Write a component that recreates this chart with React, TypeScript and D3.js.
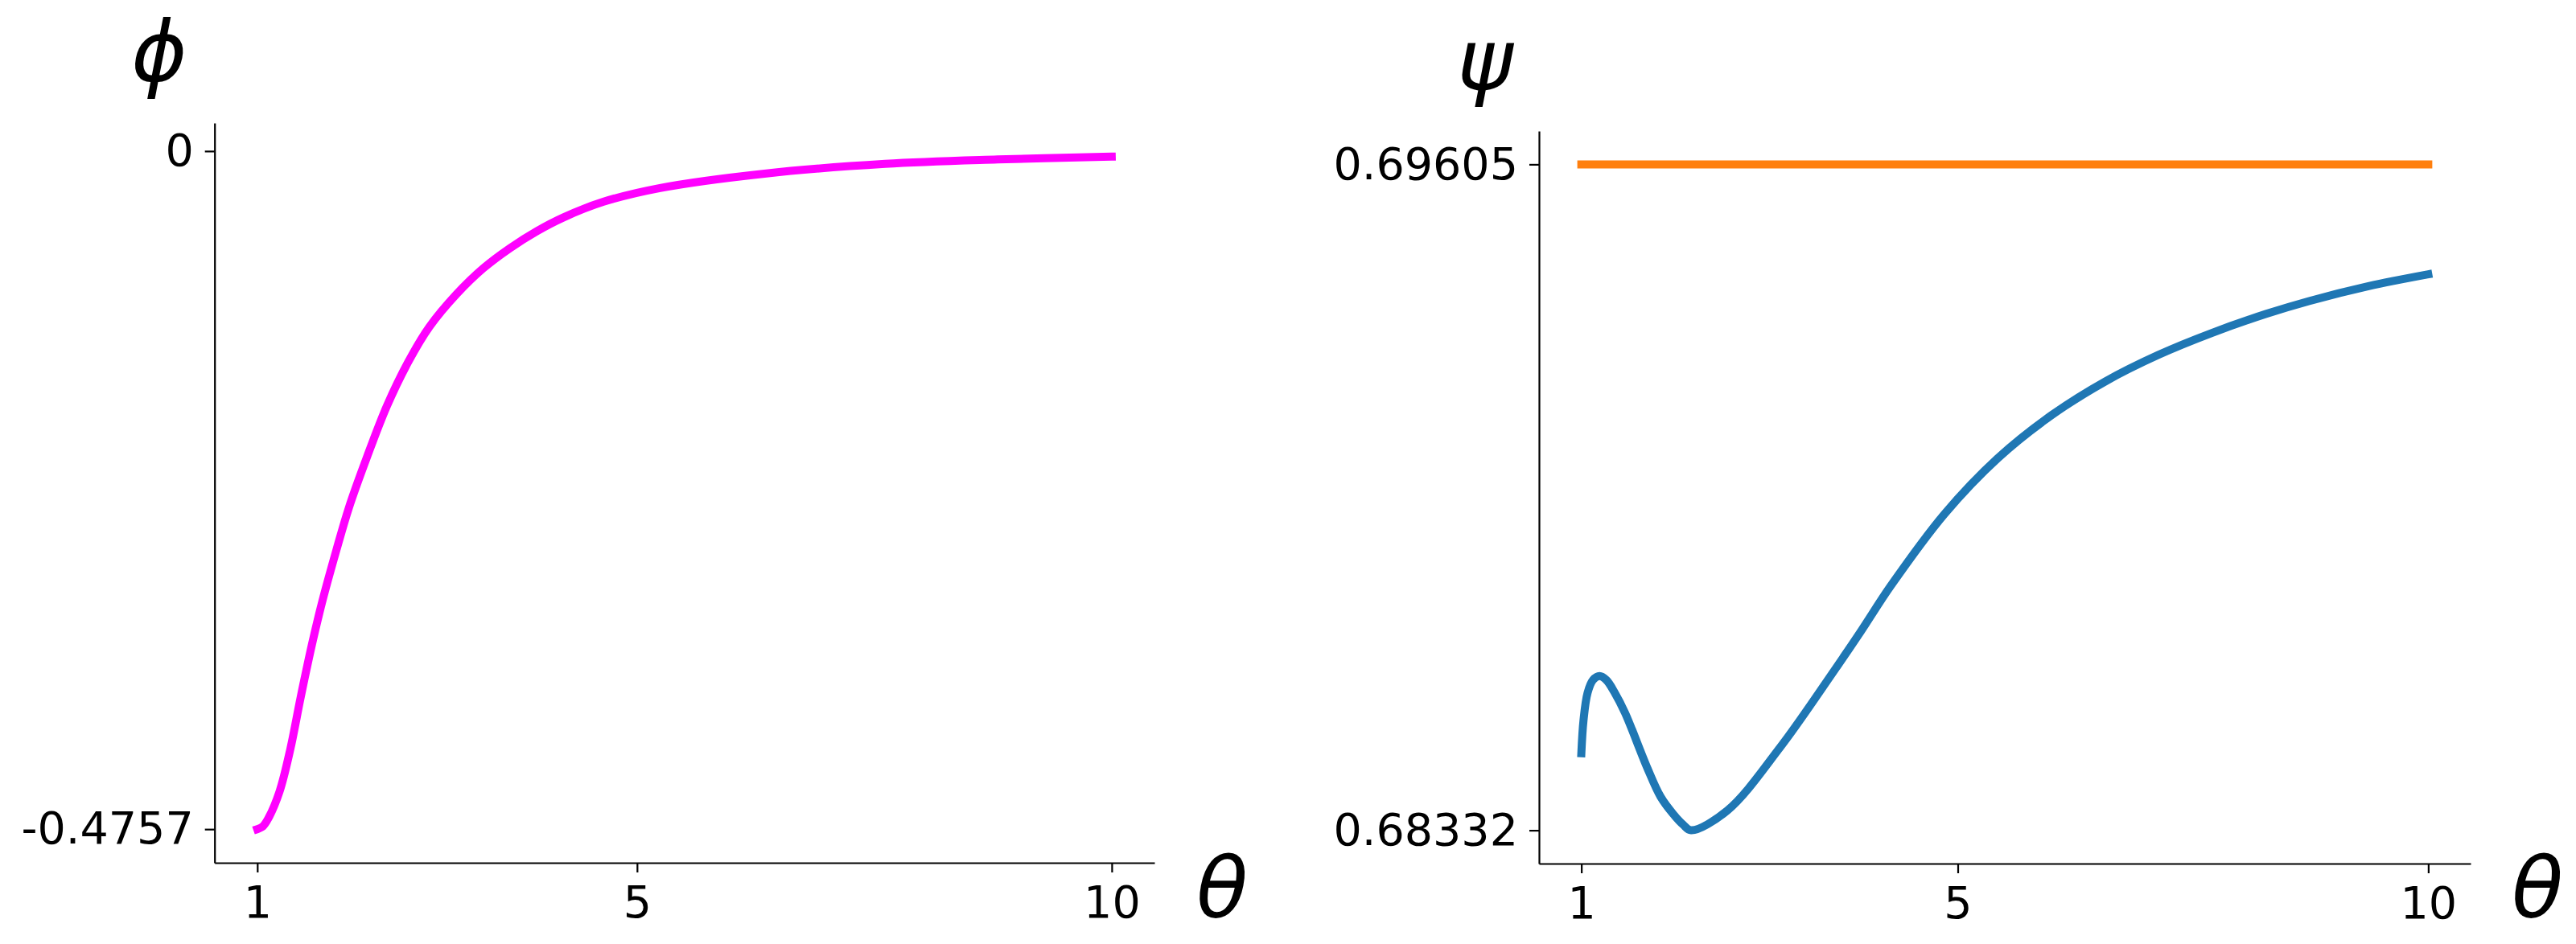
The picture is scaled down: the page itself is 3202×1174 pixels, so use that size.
import { useEffect, useRef } from 'react'
import * as d3 from 'd3'

// left panel: phi(theta)
const thetaPhi = [1, 1.059, 1.119, 1.235, 1.347, 1.457, 1.576, 1.686, 1.83, 1.965, 2.152, 2.363, 2.592, 2.812, 3.1, 3.379, 3.659, 3.947, 4.226, 4.649, 5.242, 6.343, 7.613, 8.798, 10]
const phiValues = [-0.4757, -0.4737, -0.4678, -0.4492, -0.4199, -0.3832, -0.3461, -0.3156, -0.2807, -0.2502, -0.2153, -0.1792, -0.1477, -0.1234, -0.1003, -0.0823, -0.0682, -0.0561, -0.0465, -0.0355, -0.0259, -0.0158, -0.009, -0.0059, -0.0039]

// right panel: psi(theta) and the reference level
const thetaPsi = [1, 1.023, 1.066, 1.123, 1.194, 1.266, 1.351, 1.465, 1.696, 1.841, 1.978, 2.081, 2.166, 2.55, 3.115, 3.687, 3.97, 4.286, 4.859, 5.424, 5.996, 6.569, 7.133, 7.706, 8.279, 8.732, 9.365, 10]
const psiValues = [0.684794, 0.685424, 0.685946, 0.686192, 0.686268, 0.686192, 0.685962, 0.685562, 0.684533, 0.683965, 0.683627, 0.683428, 0.68332, 0.683696, 0.684912, 0.686373, 0.687122, 0.687988, 0.689367, 0.690431, 0.691254, 0.691902, 0.692409, 0.692831, 0.693192, 0.693436, 0.693721, 0.693948]
const thetaRef = [1, 10]
const psiRef = [0.69605, 0.69605]

const xTicks = [1, 5, 10]
const phiTicks = [-0.4757, 0]
const phiTickLabels = ['-0.4757', '0']
const psiTicks = [0.68332, 0.69605]
const psiTickLabels = ['0.68332', '0.69605']

const W = 3202
const H = 1174
const FONT = '"DejaVu Sans", sans-serif'

// matplotlib style 5% margins
function padded(values: number[]): [number, number] {
  const [lo, hi] = d3.extent(values) as [number, number]
  const m = (hi - lo) * 0.05
  return [lo - m, hi + m]
}

interface Series { xs: number[]; ys: number[]; color: string }

interface PanelSpec {
  left: number
  right: number
  top: number
  bottom: number
  series: Series[]
  yTicks: number[]
  yTickLabels: string[]
  yLabel: string
  yLabelX: number
  yLabelY: number
  xLabelX: number
}

export default function App() {
  const svgRef = useRef<SVGSVGElement>(null)

  useEffect(() => {
    document.body.style.margin = '0'
    if (!svgRef.current) return
    const svg = d3.select(svgRef.current)
    svg.selectAll('*').remove()

    const panels: PanelSpec[] = [
      {
        left: 266.7, right: 1435, top: 153, bottom: 1073,
        series: [{ xs: thetaPhi, ys: phiValues, color: '#ff00ff' }],
        yTicks: phiTicks, yTickLabels: phiTickLabels,
        yLabel: '\u03D5', yLabelX: 198, yLabelY: 101, xLabelX: 1487
      },
      {
        left: 1913, right: 3071, top: 163, bottom: 1074,
        series: [
          { xs: thetaRef, ys: psiRef, color: '#ff7f0e' },
          { xs: thetaPsi, ys: psiValues, color: '#1f77b4' }
        ],
        yTicks: psiTicks, yTickLabels: psiTickLabels,
        yLabel: '\u03C8', yLabelX: 1846, yLabelY: 111, xLabelX: 3122
      }
    ]

    panels.forEach(p => {
      const allX = p.series.flatMap(s => s.xs)
      const allY = p.series.flatMap(s => s.ys)
      const x = d3.scaleLinear().domain(padded(allX)).range([p.left, p.right])
      const y = d3.scaleLinear().domain(padded(allY)).range([p.bottom, p.top])

      const g = svg.append('g')

      p.series.forEach(s => {
        const line = d3.line<number>()
          .x((_, i) => x(s.xs[i]))
          .y(d => y(d))
          .curve(d3.curveCatmullRom.alpha(0.5))
        g.append('path')
          .attr('d', line(s.ys))
          .attr('fill', 'none')
          .attr('stroke', s.color)
          .attr('stroke-width', 10)
          .attr('stroke-linecap', 'square')
          .attr('stroke-linejoin', 'round')
      })

      const xAxis = g.append('g')
        .attr('transform', `translate(0,${p.bottom})`)
        .call(d3.axisBottom(x).tickValues(xTicks).tickFormat(d3.format('d')).tickSize(12).tickSizeOuter(0).tickPadding(17))
      const yAxis = g.append('g')
        .attr('transform', `translate(${p.left},0)`)
        .call(d3.axisLeft(y).tickValues(p.yTicks).tickFormat((_, i) => p.yTickLabels[i]).tickSize(12).tickSizeOuter(0).tickPadding(14))

      ;[xAxis, yAxis].forEach(a => {
        a.attr('font-family', FONT).attr('font-size', 55.5)
        a.select('.domain').attr('stroke', '#000').attr('stroke-width', 2.2)
        a.selectAll('.tick line').attr('stroke', '#000').attr('stroke-width', 2.2)
        a.selectAll('.tick text').attr('fill', '#000')
      })

      g.append('text')
        .attr('x', p.yLabelX)
        .attr('y', p.yLabelY)
        .attr('text-anchor', 'middle')
        .attr('font-family', FONT)
        .attr('font-style', 'italic')
        .attr('font-size', 105)
        .text(p.yLabel)

      g.append('text')
        .attr('x', p.xLabelX)
        .attr('y', 1141)
        .attr('font-family', FONT)
        .attr('font-style', 'italic')
        .attr('font-size', 105)
        .text('\u03B8')
    })
  }, [])

  return (
    <svg ref={svgRef} width={W} height={H} style={{ display: 'block', background: '#fff' }} />
  )
}
